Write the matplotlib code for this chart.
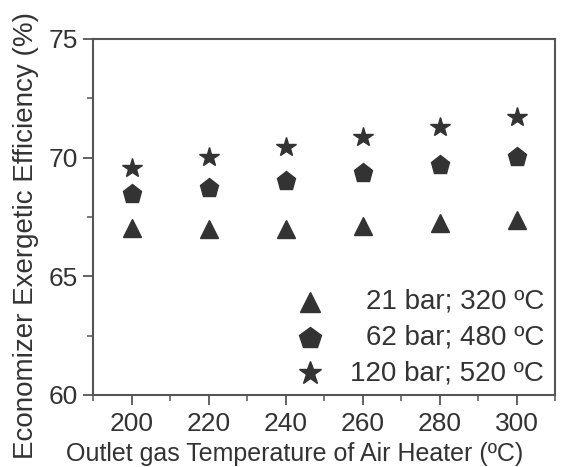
import matplotlib
matplotlib.use("Agg")
import matplotlib.pyplot as plt
from matplotlib.ticker import MultipleLocator

plt.rcParams['font.family'] = ['Liberation Sans', 'DejaVu Sans']

# Outlet gas temperature of air heater (C)
temps = [200, 220, 240, 260, 280, 300]

# Economizer exergetic efficiency (%)
eff_21bar = [67.02, 66.98, 67.00, 67.12, 67.23, 67.37]
eff_62bar = [68.46, 68.74, 69.03, 69.36, 69.69, 70.02]
eff_120bar = [69.58, 70.03, 70.44, 70.89, 71.31, 71.71]

labels = ['21 bar; 320 ºC', '62 bar; 480 ºC', '120 bar; 520 ºC']
markers = ['^', 'p', '*']
msizes = [13, 14, 15]

ink = '#333333'
spine = '#555555'

fig = plt.figure(figsize=(5.86, 4.67), dpi=100)
ax = fig.add_axes([93 / 586, 1 - 395 / 467, (555 - 93) / 586, (395 - 39) / 467])

for series, m, ms in zip([eff_21bar, eff_62bar, eff_120bar], markers, msizes):
    ax.plot(temps, series, linestyle='none', marker=m, markersize=ms, color=ink)

ax.set_xlim(190, 310)
ax.set_ylim(60, 75)
ax.xaxis.set_major_locator(MultipleLocator(20))
ax.xaxis.set_minor_locator(MultipleLocator(10))
ax.yaxis.set_major_locator(MultipleLocator(5))
ax.yaxis.set_minor_locator(MultipleLocator(2.5))

for s in ax.spines.values():
    s.set_color(spine)
    s.set_linewidth(1.5)

ax.tick_params(which='major', direction='out', length=7, width=1.3, color=spine,
               labelsize=19, labelcolor=ink)
ax.tick_params(axis='x', which='major', pad=5)
ax.tick_params(axis='y', which='major', pad=4)
ax.tick_params(which='minor', direction='out', length=4, width=1.1, color=spine)

ax.set_xlabel('Outlet gas Temperature of Air Heater (ºC)', fontsize=18, color=ink, va='top')
ax.xaxis.set_label_coords(0.437, -0.132)
ax.set_ylabel('Economizer Exergetic Efficiency (%)', fontsize=20, color=ink, va='center')
ax.yaxis.set_label_coords(-0.145, 0.447)

# legend: markers in one column, labels right-aligned
rows_y = [0.262, 0.161, 0.061]
for lab, m, ms, yy in zip(labels, markers, msizes, rows_y):
    ax.plot([0.47], [yy], transform=ax.transAxes, linestyle='none', marker=m,
            markersize=ms + 2, color=ink, clip_on=False)
    ax.text(0.976, yy, lab, transform=ax.transAxes, ha='right', va='center',
            fontsize=20, color=ink)

fig.savefig('out.png', dpi=100)
